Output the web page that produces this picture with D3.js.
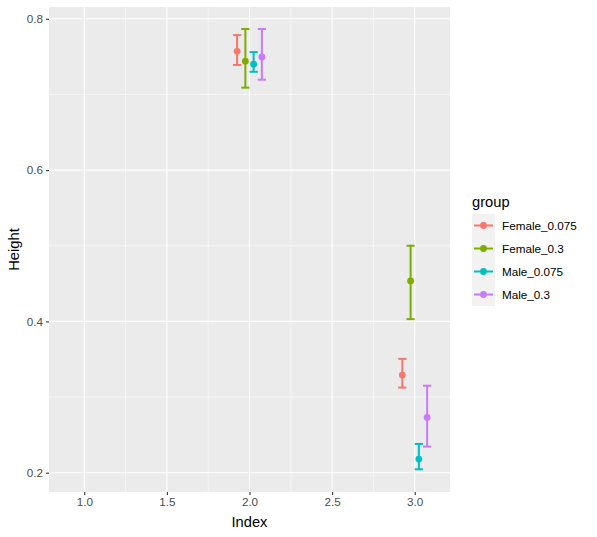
<!DOCTYPE html>
<html>
<head>
<meta charset="utf-8">
<script src="https://cdn.jsdelivr.net/npm/d3@7"></script>
<style>
  body { margin: 0; background: #fff; }
  text { font-family: "Liberation Sans", Arial, sans-serif; }
</style>
</head>
<body>
<svg id="chart" width="597" height="537"></svg>
<script>
// data
var groups = ["Female_0.075", "Female_0.3", "Male_0.075", "Male_0.3"];
var colors = ["#F8766D", "#7CAE00", "#00BFC4", "#C77CFF"];
var index = [2, 2, 2, 2, 3, 3, 3, 3];
var group = ["Female_0.075", "Female_0.3", "Male_0.075", "Male_0.3",
             "Female_0.075", "Female_0.3", "Male_0.075", "Male_0.3"];
var height = [0.757, 0.744, 0.740, 0.7495, 0.329, 0.4535, 0.218, 0.273];
var lower  = [0.739, 0.709, 0.730, 0.7195, 0.3125, 0.403, 0.2045, 0.2345];
var upper  = [0.7785, 0.7865, 0.756, 0.7865, 0.3505, 0.500, 0.238, 0.315];
var xTicks = [1.0, 1.5, 2.0, 2.5, 3.0];
var yTicks = [0.2, 0.4, 0.6, 0.8];

var data = index.map(function (d, i) {
  return { index: d, group: group[i], height: height[i], lower: lower[i], upper: upper[i] };
});

var panel = { left: 49, right: 450, top: 7, bottom: 492 };
var svg = d3.select("#chart");

var x = d3.scaleLinear().domain([0.7865, 3.2135]).range([panel.left, panel.right]);
var y = d3.scaleLinear().domain([0.1745, 0.8156]).range([panel.bottom, panel.top]);
var color = d3.scaleOrdinal().domain(groups).range(colors);

// dodge offsets for 4 groups, width 0.2
var dodge = d3.scaleBand().domain(groups).range([-0.1, 0.1]);
function xpos(d) { return x(d.index + dodge(d.group) + dodge.bandwidth() / 2); }

// panel background
svg.append("rect")
  .attr("x", panel.left).attr("y", panel.top)
  .attr("width", panel.right - panel.left).attr("height", panel.bottom - panel.top)
  .attr("fill", "#EBEBEB");

// minor grid
var xMinor = [1.25, 1.75, 2.25, 2.75];
var yMinor = [0.3, 0.5, 0.7];
svg.selectAll(".xminor").data(xMinor).enter().append("line")
  .attr("x1", function (d) { return x(d); }).attr("x2", function (d) { return x(d); })
  .attr("y1", panel.top).attr("y2", panel.bottom)
  .attr("stroke", "#fff").attr("stroke-width", 0.55);
svg.selectAll(".yminor").data(yMinor).enter().append("line")
  .attr("y1", function (d) { return y(d); }).attr("y2", function (d) { return y(d); })
  .attr("x1", panel.left).attr("x2", panel.right)
  .attr("stroke", "#fff").attr("stroke-width", 0.55);

// major grid
svg.selectAll(".xmajor").data(xTicks).enter().append("line")
  .attr("x1", function (d) { return x(d); }).attr("x2", function (d) { return x(d); })
  .attr("y1", panel.top).attr("y2", panel.bottom)
  .attr("stroke", "#fff").attr("stroke-width", 1.1);
svg.selectAll(".ymajor").data(yTicks).enter().append("line")
  .attr("y1", function (d) { return y(d); }).attr("y2", function (d) { return y(d); })
  .attr("x1", panel.left).attr("x2", panel.right)
  .attr("stroke", "#fff").attr("stroke-width", 1.1);

// axes
var xAxis = svg.append("g").attr("transform", "translate(0," + panel.bottom + ")")
  .call(d3.axisBottom(x).tickValues(xTicks).tickFormat(d3.format(".1f")).tickSize(3).tickPadding(3));
var yAxis = svg.append("g").attr("transform", "translate(" + panel.left + ",0)")
  .call(d3.axisLeft(y).tickValues(yTicks).tickFormat(d3.format(".1f")).tickSize(3).tickPadding(3));
[xAxis, yAxis].forEach(function (a) {
  a.select(".domain").remove();
  a.selectAll(".tick line").attr("stroke", "#333333").attr("stroke-width", 1.1);
  a.selectAll(".tick text").attr("fill", "#4D4D4D")
    .style("font-size", "11.7px").style("font-family", "Liberation Sans, Arial, sans-serif");
});

// error bars
var capHalf = 0.025;
var bars = svg.append("g").selectAll("g").data(data).enter().append("g")
  .attr("stroke", function (d) { return color(d.group); })
  .attr("stroke-width", 2);
bars.append("line")
  .attr("x1", xpos).attr("x2", xpos)
  .attr("y1", function (d) { return y(d.lower); }).attr("y2", function (d) { return y(d.upper); });
bars.append("line")
  .attr("x1", function (d) { return xpos(d) - (x(capHalf) - x(0)); })
  .attr("x2", function (d) { return xpos(d) + (x(capHalf) - x(0)); })
  .attr("y1", function (d) { return y(d.upper); }).attr("y2", function (d) { return y(d.upper); });
bars.append("line")
  .attr("x1", function (d) { return xpos(d) - (x(capHalf) - x(0)); })
  .attr("x2", function (d) { return xpos(d) + (x(capHalf) - x(0)); })
  .attr("y1", function (d) { return y(d.lower); }).attr("y2", function (d) { return y(d.lower); });

// points
svg.append("g").selectAll("circle").data(data).enter().append("circle")
  .attr("cx", xpos).attr("cy", function (d) { return y(d.height); })
  .attr("r", 3.4).attr("fill", function (d) { return color(d.group); });

// axis titles
svg.append("text").attr("x", x(2)).attr("y", 527)
  .attr("text-anchor", "middle").style("font-size", "14.7px").attr("fill", "#000").text("Index");
svg.append("text").attr("transform", "translate(19," + ((panel.top + panel.bottom) / 2) + ") rotate(-90)")
  .attr("text-anchor", "middle").style("font-size", "14.7px").attr("fill", "#000").text("Height");

// legend
var lg = svg.append("g").attr("transform", "translate(472,0)");
lg.append("text").attr("x", 0).attr("y", 207).style("font-size", "14.7px").text("group");
var keys = lg.selectAll(".key").data(groups).enter().append("g")
  .attr("transform", function (d, i) { return "translate(0," + (214 + i * 23) + ")"; });
keys.append("rect").attr("width", 23).attr("height", 23).attr("fill", "#F2F2F2");
keys.append("line").attr("x1", 2).attr("x2", 21).attr("y1", 11.5).attr("y2", 11.5)
  .attr("stroke", function (d) { return color(d); }).attr("stroke-width", 2);
keys.append("circle").attr("cx", 11.5).attr("cy", 11.5).attr("r", 3.4)
  .attr("fill", function (d) { return color(d); });
keys.append("text").attr("x", 30).attr("y", 15.5).style("font-size", "11.7px")
  .attr("fill", "#000").text(function (d) { return d; });
</script>
</body>
</html>
